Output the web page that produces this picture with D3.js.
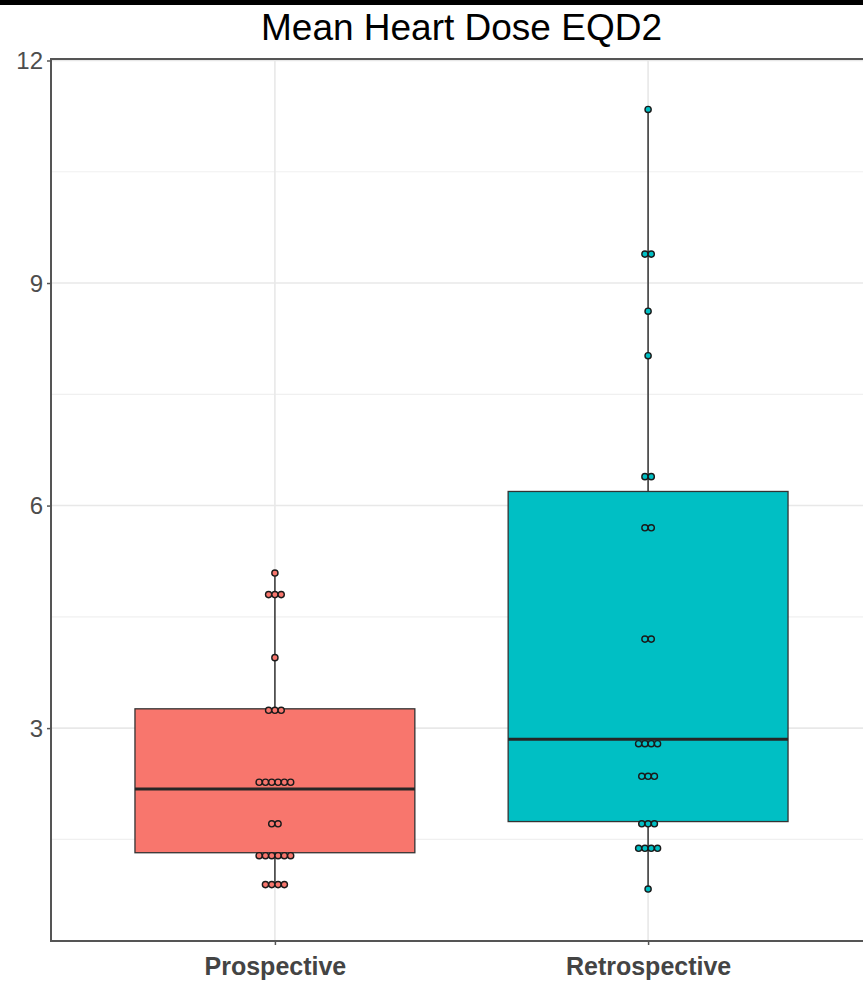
<!DOCTYPE html>
<html>
<head>
<meta charset="utf-8">
<script src="https://cdn.jsdelivr.net/npm/d3@7"></script>
<style>
  html, body { margin: 0; padding: 0; background: #fff; }
  svg { display: block; }
</style>
</head>
<body>
<script>
// Groups and their fill colours
const categories = ["Prospective", "Retrospective"];
const groupColors = ["#F8766D", "#00BFC4"];

// Per-patient mean heart dose (EQD2, Gy), binned as in the dot plot
const prospectiveDose = [5.09, 4.80, 4.80, 4.80, 3.95, 3.24, 3.24, 3.24,
  2.27, 2.27, 2.27, 2.27, 2.27, 2.27, 1.71, 1.71,
  1.28, 1.28, 1.28, 1.28, 1.28, 1.28, 0.89, 0.89, 0.89, 0.89];
const retrospectiveDose = [11.34, 9.39, 9.39, 8.62, 8.02, 6.39, 6.39, 5.70, 5.70,
  4.20, 4.20, 2.79, 2.79, 2.79, 2.79, 2.35, 2.35, 2.35,
  1.71, 1.71, 1.71, 1.38, 1.38, 1.38, 1.38, 0.83];

// Box-plot summary per group
const whiskerLow  = [0.89, 0.83];
const boxQ1       = [1.32, 1.74];
const boxMedian   = [2.18, 2.85];
const boxQ3       = [3.26, 6.19];
const whiskerHigh = [5.09, 11.34];

// Axis ticks
const majorTicks = [3, 6, 9, 12];
const minorTicks = [1.5, 4.5, 7.5, 10.5];

const titleText = "Mean Heart Dose EQD2";

const W = 863, H = 983;
const panel = { left: 51, top: 59, right: 872, bottom: 941 };

const svg = d3.select("body").append("svg")
  .attr("width", W).attr("height", H)
  .style("font-family", "'Liberation Sans', Arial, sans-serif");

// dark strip along the top edge
svg.append("rect").attr("x", 0).attr("y", 0).attr("width", W).attr("height", 5).attr("fill", "#000");

const y = d3.scaleLinear().domain([0.13, 12.02]).range([panel.bottom, panel.top]);
const x = d3.scalePoint().domain(categories).range([panel.left, panel.right]).padding(0.6);
const boxW = x.step() * 0.75;

// panel background
svg.append("rect")
  .attr("x", panel.left).attr("y", panel.top)
  .attr("width", panel.right - panel.left).attr("height", panel.bottom - panel.top)
  .attr("fill", "#fff");

// grid
const grid = svg.append("g");
grid.selectAll("line.minor").data(minorTicks).join("line")
  .attr("x1", panel.left).attr("x2", panel.right)
  .attr("y1", d => y(d)).attr("y2", d => y(d))
  .attr("stroke", "#f0f0f0").attr("stroke-width", 1.2);
grid.selectAll("line.major").data(majorTicks).join("line")
  .attr("x1", panel.left).attr("x2", panel.right)
  .attr("y1", d => y(d)).attr("y2", d => y(d))
  .attr("stroke", "#e8e8e8").attr("stroke-width", 1.6);
grid.selectAll("line.vert").data(categories).join("line")
  .attr("x1", d => x(d)).attr("x2", d => x(d))
  .attr("y1", panel.top).attr("y2", panel.bottom)
  .attr("stroke", "#e8e8e8").attr("stroke-width", 1.6);

// box plots
const boxes = categories.map((c, i) => ({
  cat: c, color: groupColors[i],
  lo: whiskerLow[i], q1: boxQ1[i], med: boxMedian[i], q3: boxQ3[i], hi: whiskerHigh[i]
}));

const bg = svg.append("g");
bg.selectAll("line.wlow").data(boxes).join("line")
  .attr("x1", d => x(d.cat)).attr("x2", d => x(d.cat))
  .attr("y1", d => y(d.lo)).attr("y2", d => y(d.q1))
  .attr("stroke", "#333").attr("stroke-width", 1.5);
bg.selectAll("line.whigh").data(boxes).join("line")
  .attr("x1", d => x(d.cat)).attr("x2", d => x(d.cat))
  .attr("y1", d => y(d.q3)).attr("y2", d => y(d.hi))
  .attr("stroke", "#333").attr("stroke-width", 1.5);
bg.selectAll("rect").data(boxes).join("rect")
  .attr("x", d => x(d.cat) - boxW / 2).attr("width", boxW)
  .attr("y", d => y(d.q3)).attr("height", d => y(d.q1) - y(d.q3))
  .attr("fill", d => d.color).attr("stroke", "#333").attr("stroke-width", 1.3);
bg.selectAll("line.med").data(boxes).join("line")
  .attr("x1", d => x(d.cat) - boxW / 2).attr("x2", d => x(d.cat) + boxW / 2)
  .attr("y1", d => y(d.med)).attr("y2", d => y(d.med))
  .attr("stroke", "#262626").attr("stroke-width", 3);

// centred dot stacks
const dotR = 3.1, dotStep = 6.3;
const seriesList = [prospectiveDose, retrospectiveDose];
const dots = [];
seriesList.forEach((vals, i) => {
  const groups = d3.groups(vals, v => v);
  groups.forEach(([v, arr]) => {
    const n = arr.length;
    arr.forEach((_, k) => {
      dots.push({ cat: categories[i], color: groupColors[i], v, off: (k - (n - 1) / 2) * dotStep });
    });
  });
});
svg.append("g").selectAll("circle").data(dots).join("circle")
  .attr("cx", d => x(d.cat) + d.off)
  .attr("cy", d => y(d.v))
  .attr("r", dotR)
  .attr("fill", d => d.color)
  .attr("stroke", "#1a1a1a").attr("stroke-width", 1.4);

// panel border
svg.append("rect")
  .attr("x", panel.left).attr("y", panel.top)
  .attr("width", panel.right - panel.left).attr("height", panel.bottom - panel.top)
  .attr("fill", "none").attr("stroke", "#555").attr("stroke-width", 2);

// y axis
const yAxis = svg.append("g").attr("transform", `translate(${panel.left},0)`)
  .call(d3.axisLeft(y).tickValues(majorTicks).tickSize(4).tickPadding(4).tickFormat(d3.format("d")));
yAxis.select(".domain").remove();
yAxis.selectAll(".tick line").attr("stroke", "#555").attr("stroke-width", 1.5);
yAxis.selectAll(".tick text").attr("fill", "#4d4d4d").style("font-size", "24px")
  .attr("dy", "0.35em");

// x axis
const xAxis = svg.append("g").attr("transform", `translate(0,${panel.bottom})`)
  .call(d3.axisBottom(x).tickSize(4).tickPadding(6));
xAxis.select(".domain").remove();
xAxis.selectAll(".tick line").attr("stroke", "#555").attr("stroke-width", 1.5);
xAxis.selectAll(".tick text").attr("fill", "#444").style("font-size", "25px")
  .style("font-weight", "bold").attr("dy", "0.95em");

// title
svg.append("text")
  .attr("x", (panel.left + panel.right) / 2).attr("y", 40)
  .attr("text-anchor", "middle")
  .style("font-size", "37px").attr("fill", "#000")
  .text(titleText);
</script>
</body>
</html>
